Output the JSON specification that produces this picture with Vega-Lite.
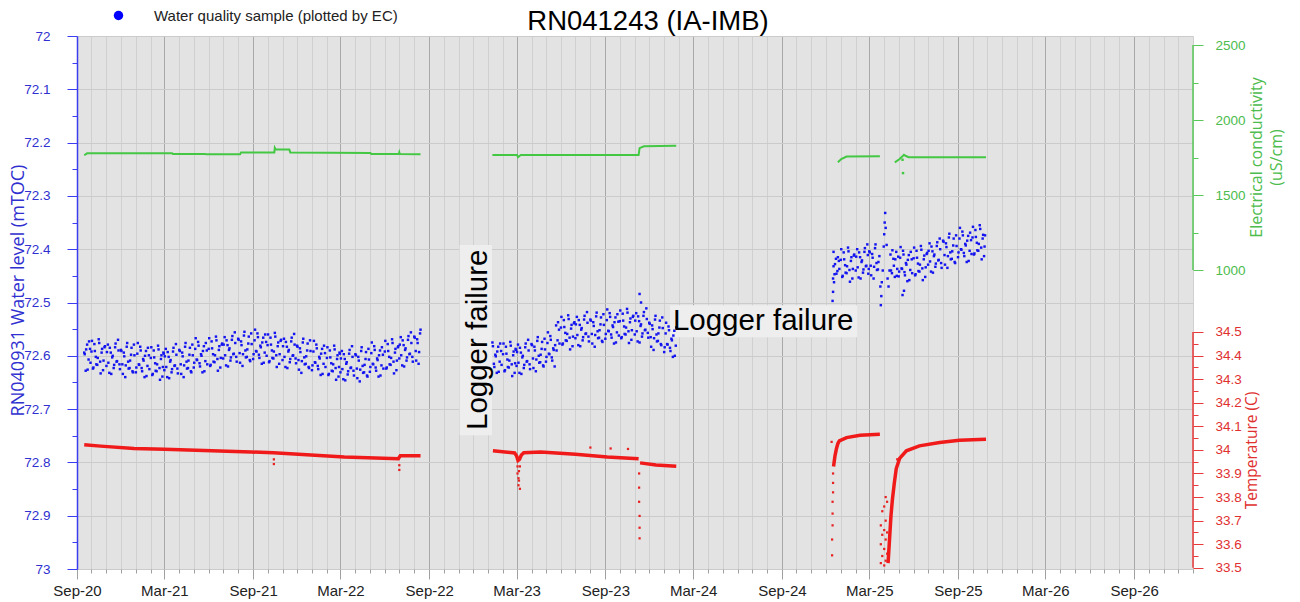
{
"$schema": "https://vega.github.io/schema/vega-lite/v6.json",
"autosize": "none",
"width": 1116,
"height": 533,
"padding": {"left": 77, "top": 36, "right": 107, "bottom": 33},
"background": "#ffffff",
"config": {"view": {"fill": "#e3e3e3", "stroke": null}, "font": "Liberation Sans", "axis": {"labelFont": "Liberation Sans", "titleFont": "Open Sans"}},
"title": {"text": "RN041243 (IA-IMB)", "fontSize": 27.5, "fontWeight": "normal", "font": "Liberation Sans", "color": "#000000", "anchor": "middle", "dx": 13, "dy": 33, "offset": 6},
"datasets": {
"wl": [
{"t":"2020-09-16","w":72.594},{"t":"2020-09-19","w":72.628},{"t":"2020-09-22","w":72.579},{"t":"2020-09-25","w":72.607},{"t":"2020-09-28","w":72.587},
{"t":"2020-10-01","w":72.592},{"t":"2020-10-04","w":72.624},{"t":"2020-10-07","w":72.578},{"t":"2020-10-10","w":72.602},{"t":"2020-10-13","w":72.617},{"t":"2020-10-16","w":72.569},{"t":"2020-10-19","w":72.611},{"t":"2020-10-22","w":72.594},{"t":"2020-10-25","w":72.627},{"t":"2020-10-28","w":72.584},
{"t":"2020-11-01","w":72.619},{"t":"2020-11-04","w":72.579},{"t":"2020-11-07","w":72.632},{"t":"2020-11-10","w":72.594},{"t":"2020-11-13","w":72.603},{"t":"2020-11-16","w":72.623},{"t":"2020-11-19","w":72.584},{"t":"2020-11-22","w":72.611},{"t":"2020-11-25","w":72.570},{"t":"2020-11-28","w":72.616},
{"t":"2020-12-01","w":72.589},{"t":"2020-12-04","w":72.616},{"t":"2020-12-07","w":72.594},{"t":"2020-12-10","w":72.640},{"t":"2020-12-13","w":72.583},{"t":"2020-12-16","w":72.611},{"t":"2020-12-19","w":72.623},{"t":"2020-12-22","w":72.598},{"t":"2020-12-25","w":72.629},{"t":"2020-12-28","w":72.579},
{"t":"2021-01-01","w":72.631},{"t":"2021-01-04","w":72.596},{"t":"2021-01-07","w":72.616},{"t":"2021-01-10","w":72.583},{"t":"2021-01-13","w":72.623},{"t":"2021-01-16","w":72.606},{"t":"2021-01-19","w":72.640},{"t":"2021-01-22","w":72.591},{"t":"2021-01-25","w":72.619},{"t":"2021-01-28","w":72.599},
{"t":"2021-02-01","w":72.604},{"t":"2021-02-04","w":72.636},{"t":"2021-02-07","w":72.590},{"t":"2021-02-10","w":72.614},{"t":"2021-02-13","w":72.629},{"t":"2021-02-16","w":72.581},{"t":"2021-02-19","w":72.623},{"t":"2021-02-22","w":72.606},{"t":"2021-02-25","w":72.639},{"t":"2021-02-28","w":72.596},
{"t":"2021-03-01","w":72.627},{"t":"2021-03-04","w":72.587},{"t":"2021-03-07","w":72.640},{"t":"2021-03-10","w":72.602},{"t":"2021-03-13","w":72.611},{"t":"2021-03-16","w":72.631},{"t":"2021-03-19","w":72.592},{"t":"2021-03-22","w":72.619},{"t":"2021-03-25","w":72.578},{"t":"2021-03-28","w":72.624},
{"t":"2021-04-01","w":72.589},{"t":"2021-04-04","w":72.616},{"t":"2021-04-07","w":72.594},{"t":"2021-04-10","w":72.640},{"t":"2021-04-13","w":72.583},{"t":"2021-04-16","w":72.611},{"t":"2021-04-19","w":72.623},{"t":"2021-04-22","w":72.598},{"t":"2021-04-25","w":72.629},{"t":"2021-04-28","w":72.579},
{"t":"2021-05-01","w":72.622},{"t":"2021-05-04","w":72.587},{"t":"2021-05-07","w":72.607},{"t":"2021-05-10","w":72.574},{"t":"2021-05-13","w":72.614},{"t":"2021-05-16","w":72.597},{"t":"2021-05-19","w":72.631},{"t":"2021-05-22","w":72.582},{"t":"2021-05-25","w":72.610},{"t":"2021-05-28","w":72.590},
{"t":"2021-06-01","w":72.587},{"t":"2021-06-04","w":72.619},{"t":"2021-06-07","w":72.573},{"t":"2021-06-10","w":72.597},{"t":"2021-06-13","w":72.612},{"t":"2021-06-16","w":72.564},{"t":"2021-06-19","w":72.606},{"t":"2021-06-22","w":72.589},{"t":"2021-06-25","w":72.622},{"t":"2021-06-28","w":72.579},
{"t":"2021-07-01","w":72.605},{"t":"2021-07-04","w":72.565},{"t":"2021-07-07","w":72.618},{"t":"2021-07-10","w":72.580},{"t":"2021-07-13","w":72.589},{"t":"2021-07-16","w":72.609},{"t":"2021-07-19","w":72.570},{"t":"2021-07-22","w":72.597},{"t":"2021-07-25","w":72.556},{"t":"2021-07-28","w":72.602},
{"t":"2021-08-01","w":72.568},{"t":"2021-08-04","w":72.595},{"t":"2021-08-07","w":72.573},{"t":"2021-08-10","w":72.619},{"t":"2021-08-13","w":72.562},{"t":"2021-08-16","w":72.590},{"t":"2021-08-19","w":72.602},{"t":"2021-08-22","w":72.577},{"t":"2021-08-25","w":72.608},{"t":"2021-08-28","w":72.558},
{"t":"2021-09-01","w":72.606},{"t":"2021-09-04","w":72.571},{"t":"2021-09-07","w":72.591},{"t":"2021-09-10","w":72.558},{"t":"2021-09-13","w":72.598},{"t":"2021-09-16","w":72.581},{"t":"2021-09-19","w":72.615},{"t":"2021-09-22","w":72.566},{"t":"2021-09-25","w":72.594},{"t":"2021-09-28","w":72.574},
{"t":"2021-10-01","w":72.580},{"t":"2021-10-04","w":72.612},{"t":"2021-10-07","w":72.566},{"t":"2021-10-10","w":72.590},{"t":"2021-10-13","w":72.605},{"t":"2021-10-16","w":72.557},{"t":"2021-10-19","w":72.599},{"t":"2021-10-22","w":72.582},{"t":"2021-10-25","w":72.615},{"t":"2021-10-28","w":72.572},
{"t":"2021-11-01","w":72.608},{"t":"2021-11-04","w":72.568},{"t":"2021-11-07","w":72.621},{"t":"2021-11-10","w":72.583},{"t":"2021-11-13","w":72.592},{"t":"2021-11-16","w":72.612},{"t":"2021-11-19","w":72.573},{"t":"2021-11-22","w":72.600},{"t":"2021-11-25","w":72.559},{"t":"2021-11-28","w":72.605},
{"t":"2021-12-01","w":72.581},{"t":"2021-12-04","w":72.608},{"t":"2021-12-07","w":72.586},{"t":"2021-12-10","w":72.632},{"t":"2021-12-13","w":72.575},{"t":"2021-12-16","w":72.603},{"t":"2021-12-19","w":72.615},{"t":"2021-12-22","w":72.590},{"t":"2021-12-25","w":72.621},{"t":"2021-12-28","w":72.571},
{"t":"2022-01-01","w":72.627},{"t":"2022-01-04","w":72.592},{"t":"2022-01-07","w":72.612},{"t":"2022-01-10","w":72.579},{"t":"2022-01-13","w":72.619},{"t":"2022-01-16","w":72.602},{"t":"2022-01-19","w":72.636},{"t":"2022-01-22","w":72.587},{"t":"2022-01-25","w":72.615},{"t":"2022-01-28","w":72.595},
{"t":"2022-02-01","w":72.604},{"t":"2022-02-04","w":72.636},{"t":"2022-02-07","w":72.590},{"t":"2022-02-10","w":72.614},{"t":"2022-02-13","w":72.629},{"t":"2022-02-16","w":72.581},{"t":"2022-02-19","w":72.623},{"t":"2022-02-22","w":72.606},{"t":"2022-02-25","w":72.639},{"t":"2022-02-28","w":72.596},
{"t":"2022-03-01","w":72.631},{"t":"2022-03-04","w":72.591},{"t":"2022-03-07","w":72.644},{"t":"2022-03-10","w":72.606},{"t":"2022-03-13","w":72.615},{"t":"2022-03-16","w":72.635},{"t":"2022-03-19","w":72.596},{"t":"2022-03-22","w":72.623},{"t":"2022-03-25","w":72.582},{"t":"2022-03-28","w":72.628},
{"t":"2022-04-01","w":72.597},{"t":"2022-04-04","w":72.624},{"t":"2022-04-07","w":72.602},{"t":"2022-04-10","w":72.648},{"t":"2022-04-13","w":72.591},{"t":"2022-04-16","w":72.619},{"t":"2022-04-19","w":72.631},{"t":"2022-04-22","w":72.606},{"t":"2022-04-25","w":72.637},{"t":"2022-04-28","w":72.587},
{"t":"2022-05-01","w":72.630},{"t":"2022-05-04","w":72.595},{"t":"2022-05-07","w":72.615},{"t":"2022-05-10","w":72.582},{"t":"2022-05-13","w":72.622},{"t":"2022-05-16","w":72.605},{"t":"2022-05-19","w":72.639},{"t":"2022-05-22","w":72.590},{"t":"2022-05-25","w":72.618},{"t":"2022-05-28","w":72.598},
{"t":"2022-06-01","w":72.592},{"t":"2022-06-04","w":72.624},{"t":"2022-06-07","w":72.578},{"t":"2022-06-10","w":72.602},{"t":"2022-06-13","w":72.617},{"t":"2022-06-16","w":72.569},{"t":"2022-06-19","w":72.611},{"t":"2022-06-22","w":72.594},{"t":"2022-06-25","w":72.627},{"t":"2022-06-28","w":72.584},
{"t":"2022-07-01","w":72.605},{"t":"2022-07-04","w":72.565},{"t":"2022-07-07","w":72.618},{"t":"2022-07-10","w":72.580},{"t":"2022-07-13","w":72.589},{"t":"2022-07-16","w":72.609},{"t":"2022-07-19","w":72.570},{"t":"2022-07-22","w":72.597},{"t":"2022-07-25","w":72.556},{"t":"2022-07-28","w":72.602},
{"t":"2022-08-01","w":72.564},{"t":"2022-08-04","w":72.591},{"t":"2022-08-07","w":72.569},{"t":"2022-08-10","w":72.615},{"t":"2022-08-13","w":72.558},
{"t":"2020-09-17","w":72.597},{"t":"2020-09-20","w":72.588},{"t":"2020-09-23","w":72.626},{"t":"2020-09-26","w":72.573},{"t":"2020-09-29","w":72.613},
{"t":"2020-10-02","w":72.572},{"t":"2020-10-05","w":72.622},{"t":"2020-10-08","w":72.591},{"t":"2020-10-11","w":72.616},{"t":"2020-10-14","w":72.604},{"t":"2020-10-17","w":72.576},{"t":"2020-10-20","w":72.633},{"t":"2020-10-23","w":72.587},{"t":"2020-10-26","w":72.609},{"t":"2020-10-29","w":72.582},
{"t":"2020-11-02","w":72.593},{"t":"2020-11-05","w":72.613},{"t":"2020-11-08","w":72.585},{"t":"2020-11-11","w":72.634},{"t":"2020-11-14","w":72.600},{"t":"2020-11-17","w":72.617},{"t":"2020-11-20","w":72.577},{"t":"2020-11-23","w":72.610},{"t":"2020-11-26","w":72.590},{"t":"2020-11-29","w":72.625},
{"t":"2020-12-02","w":72.591},{"t":"2020-12-05","w":72.634},{"t":"2020-12-08","w":72.601},{"t":"2020-12-11","w":72.618},{"t":"2020-12-14","w":72.576},{"t":"2020-12-17","w":72.624},{"t":"2020-12-20","w":72.609},{"t":"2020-12-23","w":72.585},{"t":"2020-12-26","w":72.631},{"t":"2020-12-29","w":72.599},
{"t":"2021-01-02","w":72.622},{"t":"2021-01-05","w":72.576},{"t":"2021-01-08","w":72.617},{"t":"2021-01-11","w":72.590},{"t":"2021-01-14","w":72.629},{"t":"2021-01-17","w":72.609},{"t":"2021-01-20","w":72.600},{"t":"2021-01-23","w":72.638},{"t":"2021-01-26","w":72.585},{"t":"2021-01-29","w":72.625},
{"t":"2021-02-02","w":72.584},{"t":"2021-02-05","w":72.634},{"t":"2021-02-08","w":72.603},{"t":"2021-02-11","w":72.628},{"t":"2021-02-14","w":72.616},{"t":"2021-02-17","w":72.588},{"t":"2021-02-20","w":72.645},{"t":"2021-02-23","w":72.599},{"t":"2021-02-26","w":72.621},{"t":"2021-02-27","w":72.594},
{"t":"2021-03-02","w":72.601},{"t":"2021-03-05","w":72.621},{"t":"2021-03-08","w":72.593},{"t":"2021-03-11","w":72.642},{"t":"2021-03-14","w":72.608},{"t":"2021-03-17","w":72.625},{"t":"2021-03-20","w":72.585},{"t":"2021-03-23","w":72.618},{"t":"2021-03-26","w":72.598},{"t":"2021-03-29","w":72.633},
{"t":"2021-04-02","w":72.591},{"t":"2021-04-05","w":72.634},{"t":"2021-04-08","w":72.601},{"t":"2021-04-11","w":72.618},{"t":"2021-04-14","w":72.576},{"t":"2021-04-17","w":72.624},{"t":"2021-04-20","w":72.609},{"t":"2021-04-23","w":72.585},{"t":"2021-04-26","w":72.631},{"t":"2021-04-29","w":72.599},
{"t":"2021-05-02","w":72.613},{"t":"2021-05-05","w":72.567},{"t":"2021-05-08","w":72.608},{"t":"2021-05-11","w":72.581},{"t":"2021-05-14","w":72.620},{"t":"2021-05-17","w":72.600},{"t":"2021-05-20","w":72.591},{"t":"2021-05-23","w":72.629},{"t":"2021-05-26","w":72.576},{"t":"2021-05-29","w":72.616},
{"t":"2021-06-02","w":72.567},{"t":"2021-06-05","w":72.617},{"t":"2021-06-08","w":72.586},{"t":"2021-06-11","w":72.611},{"t":"2021-06-14","w":72.599},{"t":"2021-06-17","w":72.571},{"t":"2021-06-20","w":72.628},{"t":"2021-06-23","w":72.582},{"t":"2021-06-26","w":72.604},{"t":"2021-06-29","w":72.577},
{"t":"2021-07-02","w":72.579},{"t":"2021-07-05","w":72.599},{"t":"2021-07-08","w":72.571},{"t":"2021-07-11","w":72.620},{"t":"2021-07-14","w":72.586},{"t":"2021-07-17","w":72.603},{"t":"2021-07-20","w":72.563},{"t":"2021-07-23","w":72.596},{"t":"2021-07-26","w":72.576},{"t":"2021-07-29","w":72.611},
{"t":"2021-08-02","w":72.570},{"t":"2021-08-05","w":72.613},{"t":"2021-08-08","w":72.580},{"t":"2021-08-11","w":72.597},{"t":"2021-08-14","w":72.555},{"t":"2021-08-17","w":72.603},{"t":"2021-08-20","w":72.588},{"t":"2021-08-23","w":72.564},{"t":"2021-08-26","w":72.610},{"t":"2021-08-29","w":72.578},
{"t":"2021-09-02","w":72.597},{"t":"2021-09-05","w":72.551},{"t":"2021-09-08","w":72.592},{"t":"2021-09-11","w":72.565},{"t":"2021-09-14","w":72.604},{"t":"2021-09-17","w":72.584},{"t":"2021-09-20","w":72.575},{"t":"2021-09-23","w":72.613},{"t":"2021-09-26","w":72.560},{"t":"2021-09-29","w":72.600},
{"t":"2021-10-02","w":72.560},{"t":"2021-10-05","w":72.610},{"t":"2021-10-08","w":72.579},{"t":"2021-10-11","w":72.604},{"t":"2021-10-14","w":72.592},{"t":"2021-10-17","w":72.564},{"t":"2021-10-20","w":72.621},{"t":"2021-10-23","w":72.575},{"t":"2021-10-26","w":72.597},{"t":"2021-10-29","w":72.570},
{"t":"2021-11-02","w":72.582},{"t":"2021-11-05","w":72.602},{"t":"2021-11-08","w":72.574},{"t":"2021-11-11","w":72.623},{"t":"2021-11-14","w":72.589},{"t":"2021-11-17","w":72.606},{"t":"2021-11-20","w":72.566},{"t":"2021-11-23","w":72.599},{"t":"2021-11-26","w":72.579},{"t":"2021-11-29","w":72.614},
{"t":"2021-12-02","w":72.583},{"t":"2021-12-05","w":72.626},{"t":"2021-12-08","w":72.593},{"t":"2021-12-11","w":72.610},{"t":"2021-12-14","w":72.568},{"t":"2021-12-17","w":72.616},{"t":"2021-12-20","w":72.601},{"t":"2021-12-23","w":72.577},{"t":"2021-12-26","w":72.623},{"t":"2021-12-29","w":72.591},
{"t":"2022-01-02","w":72.618},{"t":"2022-01-05","w":72.572},{"t":"2022-01-08","w":72.613},{"t":"2022-01-11","w":72.586},{"t":"2022-01-14","w":72.625},{"t":"2022-01-17","w":72.605},{"t":"2022-01-20","w":72.596},{"t":"2022-01-23","w":72.634},{"t":"2022-01-26","w":72.581},{"t":"2022-01-29","w":72.621},
{"t":"2022-02-02","w":72.584},{"t":"2022-02-05","w":72.634},{"t":"2022-02-08","w":72.603},{"t":"2022-02-11","w":72.628},{"t":"2022-02-14","w":72.616},{"t":"2022-02-17","w":72.588},{"t":"2022-02-20","w":72.645},{"t":"2022-02-23","w":72.599},{"t":"2022-02-26","w":72.621},{"t":"2022-02-27","w":72.594},
{"t":"2022-03-02","w":72.605},{"t":"2022-03-05","w":72.625},{"t":"2022-03-08","w":72.597},{"t":"2022-03-11","w":72.646},{"t":"2022-03-14","w":72.612},{"t":"2022-03-17","w":72.629},{"t":"2022-03-20","w":72.589},{"t":"2022-03-23","w":72.622},{"t":"2022-03-26","w":72.602},{"t":"2022-03-29","w":72.637},
{"t":"2022-04-02","w":72.599},{"t":"2022-04-05","w":72.642},{"t":"2022-04-08","w":72.609},{"t":"2022-04-11","w":72.626},{"t":"2022-04-14","w":72.584},{"t":"2022-04-17","w":72.632},{"t":"2022-04-20","w":72.617},{"t":"2022-04-23","w":72.593},{"t":"2022-04-26","w":72.639},{"t":"2022-04-29","w":72.607},
{"t":"2022-05-02","w":72.621},{"t":"2022-05-05","w":72.575},{"t":"2022-05-08","w":72.616},{"t":"2022-05-11","w":72.589},{"t":"2022-05-14","w":72.628},{"t":"2022-05-17","w":72.608},{"t":"2022-05-20","w":72.599},{"t":"2022-05-23","w":72.637},{"t":"2022-05-26","w":72.584},{"t":"2022-05-29","w":72.624},
{"t":"2022-06-02","w":72.572},{"t":"2022-06-05","w":72.622},{"t":"2022-06-08","w":72.591},{"t":"2022-06-11","w":72.616},{"t":"2022-06-14","w":72.604},{"t":"2022-06-17","w":72.576},{"t":"2022-06-20","w":72.633},{"t":"2022-06-23","w":72.587},{"t":"2022-06-26","w":72.609},{"t":"2022-06-29","w":72.582},
{"t":"2022-07-02","w":72.579},{"t":"2022-07-05","w":72.599},{"t":"2022-07-08","w":72.571},{"t":"2022-07-11","w":72.620},{"t":"2022-07-14","w":72.586},{"t":"2022-07-17","w":72.603},{"t":"2022-07-20","w":72.563},{"t":"2022-07-23","w":72.596},{"t":"2022-07-26","w":72.576},{"t":"2022-07-29","w":72.611},
{"t":"2022-08-02","w":72.566},{"t":"2022-08-05","w":72.609},{"t":"2022-08-08","w":72.576},{"t":"2022-08-11","w":72.593},{"t":"2022-08-14","w":72.551},
{"t":"2023-01-10","w":72.575},{"t":"2023-01-13","w":72.615},{"t":"2023-01-16","w":72.598},{"t":"2023-01-19","w":72.632},{"t":"2023-01-22","w":72.583},{"t":"2023-01-25","w":72.611},{"t":"2023-01-28","w":72.591},
{"t":"2023-02-01","w":72.597},{"t":"2023-02-04","w":72.629},{"t":"2023-02-07","w":72.583},{"t":"2023-02-10","w":72.607},{"t":"2023-02-13","w":72.622},{"t":"2023-02-16","w":72.574},{"t":"2023-02-19","w":72.616},{"t":"2023-02-22","w":72.599},{"t":"2023-02-25","w":72.632},{"t":"2023-02-28","w":72.589},
{"t":"2023-03-01","w":72.619},{"t":"2023-03-04","w":72.579},{"t":"2023-03-07","w":72.632},{"t":"2023-03-10","w":72.594},{"t":"2023-03-13","w":72.603},{"t":"2023-03-16","w":72.623},{"t":"2023-03-19","w":72.584},{"t":"2023-03-22","w":72.611},{"t":"2023-03-25","w":72.570},{"t":"2023-03-28","w":72.616},
{"t":"2023-04-01","w":72.578},{"t":"2023-04-04","w":72.605},{"t":"2023-04-07","w":72.583},{"t":"2023-04-10","w":72.629},{"t":"2023-04-13","w":72.572},{"t":"2023-04-16","w":72.600},{"t":"2023-04-19","w":72.612},{"t":"2023-04-22","w":72.587},{"t":"2023-04-25","w":72.618},{"t":"2023-04-28","w":72.568},
{"t":"2023-05-01","w":72.611},{"t":"2023-05-04","w":72.576},{"t":"2023-05-07","w":72.596},{"t":"2023-05-10","w":72.563},{"t":"2023-05-13","w":72.603},{"t":"2023-05-16","w":72.586},{"t":"2023-05-19","w":72.620},{"t":"2023-05-22","w":72.543},{"t":"2023-05-25","w":72.571},{"t":"2023-05-28","w":72.551},
{"t":"2023-06-01","w":72.547},{"t":"2023-06-04","w":72.579},{"t":"2023-06-07","w":72.533},{"t":"2023-06-10","w":72.557},{"t":"2023-06-13","w":72.572},{"t":"2023-06-16","w":72.524},{"t":"2023-06-19","w":72.566},{"t":"2023-06-22","w":72.549},{"t":"2023-06-25","w":72.582},{"t":"2023-06-28","w":72.539},
{"t":"2023-07-01","w":72.567},{"t":"2023-07-04","w":72.527},{"t":"2023-07-07","w":72.580},{"t":"2023-07-10","w":72.542},{"t":"2023-07-13","w":72.551},{"t":"2023-07-16","w":72.571},{"t":"2023-07-19","w":72.532},{"t":"2023-07-22","w":72.559},{"t":"2023-07-25","w":72.518},{"t":"2023-07-28","w":72.564},
{"t":"2023-08-01","w":72.532},{"t":"2023-08-04","w":72.559},{"t":"2023-08-07","w":72.537},{"t":"2023-08-10","w":72.583},{"t":"2023-08-13","w":72.526},{"t":"2023-08-16","w":72.554},{"t":"2023-08-19","w":72.566},{"t":"2023-08-22","w":72.541},{"t":"2023-08-25","w":72.572},{"t":"2023-08-28","w":72.522},
{"t":"2023-09-01","w":72.568},{"t":"2023-09-04","w":72.533},{"t":"2023-09-07","w":72.553},{"t":"2023-09-10","w":72.520},{"t":"2023-09-13","w":72.560},{"t":"2023-09-16","w":72.543},{"t":"2023-09-19","w":72.577},{"t":"2023-09-22","w":72.528},{"t":"2023-09-25","w":72.556},{"t":"2023-09-28","w":72.536},
{"t":"2023-10-01","w":72.535},{"t":"2023-10-04","w":72.567},{"t":"2023-10-07","w":72.521},{"t":"2023-10-10","w":72.545},{"t":"2023-10-13","w":72.560},{"t":"2023-10-16","w":72.512},{"t":"2023-10-19","w":72.554},{"t":"2023-10-22","w":72.537},{"t":"2023-10-25","w":72.570},{"t":"2023-10-28","w":72.527},
{"t":"2023-11-01","w":72.560},{"t":"2023-11-04","w":72.520},{"t":"2023-11-07","w":72.573},{"t":"2023-11-10","w":72.535},{"t":"2023-11-11","w":72.484},{"t":"2023-11-13","w":72.544},{"t":"2023-11-14","w":72.500},{"t":"2023-11-16","w":72.564},{"t":"2023-11-19","w":72.525},{"t":"2023-11-22","w":72.552},{"t":"2023-11-25","w":72.511},{"t":"2023-11-28","w":72.557},
{"t":"2023-12-01","w":72.538},{"t":"2023-12-04","w":72.565},{"t":"2023-12-07","w":72.543},{"t":"2023-12-10","w":72.589},{"t":"2023-12-13","w":72.532},{"t":"2023-12-16","w":72.560},{"t":"2023-12-19","w":72.572},{"t":"2023-12-22","w":72.547},{"t":"2023-12-25","w":72.578},{"t":"2023-12-28","w":72.528},
{"t":"2024-01-01","w":72.593},{"t":"2024-01-04","w":72.558},{"t":"2024-01-07","w":72.578},{"t":"2024-01-10","w":72.545},{"t":"2024-01-13","w":72.585},{"t":"2024-01-16","w":72.568},{"t":"2024-01-19","w":72.602},{"t":"2024-01-22","w":72.553},{"t":"2024-01-25","w":72.581},
{"t":"2023-01-11","w":72.582},{"t":"2023-01-14","w":72.621},{"t":"2023-01-17","w":72.601},{"t":"2023-01-20","w":72.592},{"t":"2023-01-23","w":72.630},{"t":"2023-01-26","w":72.577},{"t":"2023-01-29","w":72.617},
{"t":"2023-02-02","w":72.577},{"t":"2023-02-05","w":72.627},{"t":"2023-02-08","w":72.596},{"t":"2023-02-11","w":72.621},{"t":"2023-02-14","w":72.609},{"t":"2023-02-17","w":72.581},{"t":"2023-02-20","w":72.638},{"t":"2023-02-23","w":72.592},{"t":"2023-02-26","w":72.614},{"t":"2023-02-27","w":72.587},
{"t":"2023-03-02","w":72.593},{"t":"2023-03-05","w":72.613},{"t":"2023-03-08","w":72.585},{"t":"2023-03-11","w":72.634},{"t":"2023-03-14","w":72.600},{"t":"2023-03-17","w":72.617},{"t":"2023-03-20","w":72.577},{"t":"2023-03-23","w":72.610},{"t":"2023-03-26","w":72.590},{"t":"2023-03-29","w":72.625},
{"t":"2023-04-02","w":72.580},{"t":"2023-04-05","w":72.623},{"t":"2023-04-08","w":72.590},{"t":"2023-04-11","w":72.607},{"t":"2023-04-14","w":72.565},{"t":"2023-04-17","w":72.613},{"t":"2023-04-20","w":72.598},{"t":"2023-04-23","w":72.574},{"t":"2023-04-26","w":72.620},{"t":"2023-04-29","w":72.588},
{"t":"2023-05-02","w":72.602},{"t":"2023-05-05","w":72.556},{"t":"2023-05-08","w":72.597},{"t":"2023-05-11","w":72.570},{"t":"2023-05-14","w":72.609},{"t":"2023-05-17","w":72.589},{"t":"2023-05-20","w":72.580},{"t":"2023-05-23","w":72.590},{"t":"2023-05-26","w":72.537},{"t":"2023-05-29","w":72.577},
{"t":"2023-06-02","w":72.527},{"t":"2023-06-05","w":72.577},{"t":"2023-06-08","w":72.546},{"t":"2023-06-11","w":72.571},{"t":"2023-06-14","w":72.559},{"t":"2023-06-17","w":72.531},{"t":"2023-06-20","w":72.588},{"t":"2023-06-23","w":72.542},{"t":"2023-06-26","w":72.564},{"t":"2023-06-29","w":72.537},
{"t":"2023-07-02","w":72.541},{"t":"2023-07-05","w":72.561},{"t":"2023-07-08","w":72.533},{"t":"2023-07-11","w":72.582},{"t":"2023-07-14","w":72.548},{"t":"2023-07-17","w":72.565},{"t":"2023-07-20","w":72.525},{"t":"2023-07-23","w":72.558},{"t":"2023-07-26","w":72.538},{"t":"2023-07-29","w":72.573},
{"t":"2023-08-02","w":72.534},{"t":"2023-08-05","w":72.577},{"t":"2023-08-08","w":72.544},{"t":"2023-08-11","w":72.561},{"t":"2023-08-14","w":72.519},{"t":"2023-08-17","w":72.567},{"t":"2023-08-20","w":72.552},{"t":"2023-08-23","w":72.528},{"t":"2023-08-26","w":72.574},{"t":"2023-08-29","w":72.542},
{"t":"2023-09-02","w":72.559},{"t":"2023-09-05","w":72.513},{"t":"2023-09-08","w":72.554},{"t":"2023-09-11","w":72.527},{"t":"2023-09-14","w":72.566},{"t":"2023-09-17","w":72.546},{"t":"2023-09-20","w":72.537},{"t":"2023-09-23","w":72.575},{"t":"2023-09-26","w":72.522},{"t":"2023-09-29","w":72.562},
{"t":"2023-10-02","w":72.515},{"t":"2023-10-05","w":72.565},{"t":"2023-10-08","w":72.534},{"t":"2023-10-11","w":72.559},{"t":"2023-10-14","w":72.547},{"t":"2023-10-17","w":72.519},{"t":"2023-10-20","w":72.576},{"t":"2023-10-23","w":72.530},{"t":"2023-10-26","w":72.552},{"t":"2023-10-29","w":72.525},
{"t":"2023-11-02","w":72.534},{"t":"2023-11-05","w":72.554},{"t":"2023-11-08","w":72.526},{"t":"2023-11-11","w":72.575},{"t":"2023-11-14","w":72.541},{"t":"2023-11-17","w":72.558},{"t":"2023-11-20","w":72.518},{"t":"2023-11-23","w":72.551},{"t":"2023-11-26","w":72.531},{"t":"2023-11-29","w":72.566},
{"t":"2023-12-02","w":72.540},{"t":"2023-12-05","w":72.583},{"t":"2023-12-08","w":72.550},{"t":"2023-12-11","w":72.567},{"t":"2023-12-14","w":72.525},{"t":"2023-12-17","w":72.573},{"t":"2023-12-20","w":72.558},{"t":"2023-12-23","w":72.534},{"t":"2023-12-26","w":72.580},{"t":"2023-12-29","w":72.548},
{"t":"2024-01-02","w":72.584},{"t":"2024-01-05","w":72.538},{"t":"2024-01-08","w":72.579},{"t":"2024-01-11","w":72.552},{"t":"2024-01-14","w":72.591},{"t":"2024-01-17","w":72.571},{"t":"2024-01-20","w":72.562},{"t":"2024-01-23","w":72.600},{"t":"2024-01-26","w":72.547},
{"t":"2024-12-15","w":72.497},{"t":"2024-12-16","w":72.480},{"t":"2024-12-16","w":72.455},{"t":"2024-12-17","w":72.432},{"t":"2024-12-17","w":72.405},{"t":"2024-12-19","w":72.447},{"t":"2024-12-22","w":72.418},{"t":"2024-12-25","w":72.441},{"t":"2024-12-28","w":72.422},
{"t":"2024-12-18","w":72.462},{"t":"2024-12-20","w":72.428},{"t":"2024-12-23","w":72.446},{"t":"2024-12-26","w":72.415},{"t":"2024-12-29","w":72.437},
{"t":"2025-01-01","w":72.420},{"t":"2025-01-04","w":72.452},{"t":"2025-01-07","w":72.406},{"t":"2025-01-10","w":72.430},{"t":"2025-01-13","w":72.445},{"t":"2025-01-16","w":72.397},{"t":"2025-01-19","w":72.439},{"t":"2025-01-22","w":72.422},{"t":"2025-01-25","w":72.455},{"t":"2025-01-28","w":72.412},
{"t":"2025-01-02","w":72.400},{"t":"2025-01-05","w":72.450},{"t":"2025-01-08","w":72.419},{"t":"2025-01-11","w":72.444},{"t":"2025-01-14","w":72.432},{"t":"2025-01-17","w":72.404},{"t":"2025-01-20","w":72.461},{"t":"2025-01-23","w":72.415},{"t":"2025-01-26","w":72.437},{"t":"2025-01-29","w":72.410},
{"t":"2025-02-01","w":72.440},{"t":"2025-02-04","w":72.400},{"t":"2025-02-07","w":72.453},{"t":"2025-02-10","w":72.415},{"t":"2025-02-13","w":72.424},{"t":"2025-02-16","w":72.444},{"t":"2025-02-19","w":72.405},{"t":"2025-02-22","w":72.432},{"t":"2025-02-25","w":72.391},{"t":"2025-02-28","w":72.437},
{"t":"2025-02-02","w":72.414},{"t":"2025-02-05","w":72.434},{"t":"2025-02-08","w":72.406},{"t":"2025-02-11","w":72.455},{"t":"2025-02-14","w":72.421},{"t":"2025-02-17","w":72.438},{"t":"2025-02-20","w":72.398},{"t":"2025-02-23","w":72.431},{"t":"2025-02-26","w":72.411},{"t":"2025-02-27","w":72.446},
{"t":"2025-03-01","w":72.404},{"t":"2025-03-04","w":72.431},{"t":"2025-03-07","w":72.409},{"t":"2025-03-10","w":72.455},{"t":"2025-03-13","w":72.398},{"t":"2025-03-16","w":72.426},{"t":"2025-03-19","w":72.438},{"t":"2025-03-22","w":72.413},{"t":"2025-03-24","w":72.470},{"t":"2025-03-25","w":72.505},{"t":"2025-03-26","w":72.488},{"t":"2025-03-27","w":72.462},{"t":"2025-03-29","w":72.440},{"t":"2025-03-31","w":72.395},
{"t":"2025-03-02","w":72.406},{"t":"2025-03-05","w":72.449},{"t":"2025-03-08","w":72.416},{"t":"2025-03-11","w":72.433},{"t":"2025-03-14","w":72.391},{"t":"2025-03-17","w":72.439},{"t":"2025-03-20","w":72.424},
{"t":"2025-04-01","w":72.372},{"t":"2025-04-02","w":72.350},{"t":"2025-04-03","w":72.332},{"t":"2025-04-04","w":72.360},{"t":"2025-04-06","w":72.392},{"t":"2025-04-08","w":72.455},{"t":"2025-04-10","w":72.470},{"t":"2025-04-12","w":72.440},{"t":"2025-04-14","w":72.410},{"t":"2025-04-17","w":72.445},{"t":"2025-04-20","w":72.418},{"t":"2025-04-23","w":72.452},{"t":"2025-04-26","w":72.405},{"t":"2025-04-28","w":72.437},
{"t":"2025-04-15","w":72.440},{"t":"2025-04-18","w":72.402},{"t":"2025-04-21","w":72.431},{"t":"2025-04-24","w":72.419},{"t":"2025-04-27","w":72.450},{"t":"2025-04-30","w":72.414},
{"t":"2025-05-01","w":72.451},{"t":"2025-05-04","w":72.416},{"t":"2025-05-07","w":72.436},{"t":"2025-05-09","w":72.486},{"t":"2025-05-10","w":72.403},{"t":"2025-05-12","w":72.478},{"t":"2025-05-13","w":72.443},{"t":"2025-05-16","w":72.426},{"t":"2025-05-19","w":72.460},{"t":"2025-05-22","w":72.411},{"t":"2025-05-25","w":72.439},{"t":"2025-05-28","w":72.419},
{"t":"2025-05-02","w":72.442},{"t":"2025-05-05","w":72.396},{"t":"2025-05-08","w":72.437},{"t":"2025-05-11","w":72.410},{"t":"2025-05-14","w":72.449},{"t":"2025-05-17","w":72.429},{"t":"2025-05-20","w":72.420},{"t":"2025-05-23","w":72.458},{"t":"2025-05-26","w":72.405},{"t":"2025-05-29","w":72.445},
{"t":"2025-06-01","w":72.417},{"t":"2025-06-04","w":72.449},{"t":"2025-06-07","w":72.403},{"t":"2025-06-10","w":72.427},{"t":"2025-06-13","w":72.442},{"t":"2025-06-16","w":72.394},{"t":"2025-06-19","w":72.436},{"t":"2025-06-22","w":72.419},{"t":"2025-06-25","w":72.452},{"t":"2025-06-28","w":72.409},
{"t":"2025-06-02","w":72.397},{"t":"2025-06-05","w":72.447},{"t":"2025-06-08","w":72.416},{"t":"2025-06-11","w":72.441},{"t":"2025-06-14","w":72.429},{"t":"2025-06-17","w":72.401},{"t":"2025-06-20","w":72.458},{"t":"2025-06-23","w":72.412},{"t":"2025-06-26","w":72.434},{"t":"2025-06-29","w":72.407},
{"t":"2025-07-01","w":72.429},{"t":"2025-07-04","w":72.389},{"t":"2025-07-07","w":72.442},{"t":"2025-07-10","w":72.404},{"t":"2025-07-13","w":72.413},{"t":"2025-07-16","w":72.433},{"t":"2025-07-19","w":72.394},{"t":"2025-07-22","w":72.421},{"t":"2025-07-25","w":72.380},{"t":"2025-07-28","w":72.426},
{"t":"2025-07-02","w":72.403},{"t":"2025-07-05","w":72.423},{"t":"2025-07-08","w":72.395},{"t":"2025-07-11","w":72.444},{"t":"2025-07-14","w":72.410},{"t":"2025-07-17","w":72.427},{"t":"2025-07-20","w":72.387},{"t":"2025-07-23","w":72.420},{"t":"2025-07-26","w":72.400},{"t":"2025-07-29","w":72.435},
{"t":"2025-08-01","w":72.384},{"t":"2025-08-04","w":72.411},{"t":"2025-08-07","w":72.389},{"t":"2025-08-10","w":72.435},{"t":"2025-08-13","w":72.378},{"t":"2025-08-16","w":72.406},{"t":"2025-08-19","w":72.418},{"t":"2025-08-22","w":72.393},{"t":"2025-08-25","w":72.424},{"t":"2025-08-28","w":72.374},
{"t":"2025-08-02","w":72.386},{"t":"2025-08-05","w":72.429},{"t":"2025-08-08","w":72.396},{"t":"2025-08-11","w":72.413},{"t":"2025-08-14","w":72.371},{"t":"2025-08-17","w":72.419},{"t":"2025-08-20","w":72.404},{"t":"2025-08-23","w":72.380},{"t":"2025-08-26","w":72.426},{"t":"2025-08-29","w":72.394},
{"t":"2025-09-01","w":72.415},{"t":"2025-09-04","w":72.380},{"t":"2025-09-07","w":72.400},{"t":"2025-09-10","w":72.367},{"t":"2025-09-13","w":72.407},{"t":"2025-09-16","w":72.390},{"t":"2025-09-19","w":72.424},{"t":"2025-09-22","w":72.375},{"t":"2025-09-25","w":72.403},{"t":"2025-09-28","w":72.383},
{"t":"2025-09-02","w":72.406},{"t":"2025-09-05","w":72.360},{"t":"2025-09-08","w":72.401},{"t":"2025-09-11","w":72.374},{"t":"2025-09-14","w":72.413},{"t":"2025-09-17","w":72.393},{"t":"2025-09-20","w":72.384},{"t":"2025-09-23","w":72.422},{"t":"2025-09-26","w":72.369},{"t":"2025-09-29","w":72.409},
{"t":"2025-10-01","w":72.378},{"t":"2025-10-04","w":72.410},{"t":"2025-10-07","w":72.364},{"t":"2025-10-10","w":72.388},{"t":"2025-10-13","w":72.403},{"t":"2025-10-16","w":72.355},{"t":"2025-10-19","w":72.397},{"t":"2025-10-22","w":72.380},{"t":"2025-10-25","w":72.413},{"t":"2025-10-27","w":72.374},
{"t":"2025-10-02","w":72.358},{"t":"2025-10-05","w":72.408},{"t":"2025-10-08","w":72.377},{"t":"2025-10-11","w":72.402},{"t":"2025-10-14","w":72.390},{"t":"2025-10-17","w":72.362},{"t":"2025-10-20","w":72.419},{"t":"2025-10-23","w":72.373},{"t":"2025-10-26","w":72.395}
],
"ec": [
{"t":"2020-09-16","e":1765,"s":"1"},{"t":"2020-09-22","e":1778,"s":"1"},{"t":"2021-03-17","e":1779,"s":"1"},{"t":"2021-03-19","e":1773,"s":"1"},{"t":"2021-05-25","e":1773,"s":"1"},{"t":"2021-05-27","e":1771,"s":"1"},{"t":"2021-08-05","e":1771,"s":"1"},{"t":"2021-08-07","e":1784,"s":"1"},{"t":"2021-10-15","e":1784,"s":"1"},{"t":"2021-10-16","e":1815,"s":"1"},{"t":"2021-10-18","e":1804,"s":"1"},{"t":"2021-11-15","e":1804,"s":"1"},{"t":"2021-11-17","e":1784,"s":"1"},{"t":"2022-05-02","e":1780,"s":"1"},{"t":"2022-05-04","e":1773,"s":"1"},{"t":"2022-06-30","e":1773,"s":"1"},{"t":"2022-07-01","e":1785,"s":"1"},{"t":"2022-07-02","e":1773,"s":"1"},{"t":"2022-08-14","e":1772,"s":"1"},
{"t":"2023-01-10","e":1767,"s":"2"},{"t":"2023-03-02","e":1767,"s":"2"},{"t":"2023-03-04","e":1752,"s":"2"},{"t":"2023-03-07","e":1760,"s":"2"},{"t":"2023-03-10","e":1767,"s":"2"},{"t":"2023-11-09","e":1767,"s":"2"},{"t":"2023-11-11","e":1812,"s":"2"},{"t":"2023-11-20","e":1825,"s":"2"},{"t":"2024-01-26","e":1828,"s":"2"},
{"t":"2024-12-26","e":1718,"s":"3"},{"t":"2025-01-02","e":1740,"s":"3"},{"t":"2025-01-13","e":1756,"s":"3"},{"t":"2025-03-23","e":1758,"s":"3"},
{"t":"2025-04-23","e":1718,"s":"4"},{"t":"2025-05-03","e":1740,"s":"4"},{"t":"2025-05-12","e":1768,"s":"4"},{"t":"2025-05-16","e":1760,"s":"4"},{"t":"2025-05-22","e":1752,"s":"4"},{"t":"2025-10-29","e":1751,"s":"4"}
],
"ecp": [{"t":"2025-05-10","e":1646},{"t":"2025-05-09","e":1735}],
"wq": [],
"edge": [{"t":"2027-01-01"}],
"tl": [
{"t":"2020-09-16","c":34.022,"s":"1"},{"t":"2020-10-20","c":34.016,"s":"1"},{"t":"2020-12-28","c":34.006,"s":"1"},{"t":"2021-03-01","c":34.003,"s":"1"},{"t":"2021-08-28","c":33.991,"s":"1"},{"t":"2021-10-13","c":33.988,"s":"1"},{"t":"2022-03-09","c":33.970,"s":"1"},{"t":"2022-06-29","c":33.963,"s":"1"},{"t":"2022-07-03","c":33.975,"s":"1"},{"t":"2022-08-14","c":33.975,"s":"1"},
{"t":"2023-01-11","c":33.996,"s":"2"},{"t":"2023-02-25","c":33.987,"s":"2"},{"t":"2023-03-01","c":33.975,"s":"2"},{"t":"2023-03-04","c":33.955,"s":"2"},{"t":"2023-03-07","c":33.960,"s":"2"},{"t":"2023-03-11","c":33.978,"s":"2"},{"t":"2023-03-16","c":33.988,"s":"2"},{"t":"2023-04-20","c":33.991,"s":"2"},{"t":"2023-07-01","c":33.982,"s":"2"},{"t":"2023-09-05","c":33.970,"s":"2"},{"t":"2023-11-09","c":33.962,"s":"2"},
{"t":"2023-11-12","c":33.945,"s":"3"},{"t":"2023-12-15","c":33.936,"s":"3"},{"t":"2024-01-26","c":33.931,"s":"3"},
{"t":"2024-12-17","c":33.930,"s":"4"},{"t":"2024-12-20","c":33.975,"s":"4"},{"t":"2024-12-23","c":34.005,"s":"4"},{"t":"2024-12-26","c":34.027,"s":"4"},{"t":"2024-12-29","c":34.038,"s":"4"},{"t":"2025-01-13","c":34.052,"s":"4"},{"t":"2025-02-10","c":34.062,"s":"4"},{"t":"2025-03-23","c":34.066,"s":"4"},
{"t":"2025-04-09","c":33.52,"s":"5"},{"t":"2025-04-12","c":33.62,"s":"5"},{"t":"2025-04-15","c":33.72,"s":"5"},{"t":"2025-04-18","c":33.79,"s":"5"},{"t":"2025-04-22","c":33.86,"s":"5"},{"t":"2025-04-26","c":33.921,"s":"5"},{"t":"2025-05-03","c":33.964,"s":"5"},{"t":"2025-05-17","c":33.996,"s":"5"},{"t":"2025-06-13","c":34.017,"s":"5"},{"t":"2025-07-25","c":34.031,"s":"5"},{"t":"2025-09-04","c":34.041,"s":"5"},{"t":"2025-10-29","c":34.045,"s":"5"}
],
"tp": [
{"t":"2021-10-14","c":33.960},{"t":"2021-10-14","c":33.940},{"t":"2022-07-01","c":33.935},{"t":"2022-07-01","c":33.915},
{"t":"2023-03-03","c":33.930},{"t":"2023-03-03","c":33.900},{"t":"2023-03-05","c":33.880},{"t":"2023-03-05","c":33.850},{"t":"2023-03-06","c":33.910},{"t":"2023-03-06","c":33.870},{"t":"2023-03-08","c":33.930},{"t":"2023-03-08","c":33.835},
{"t":"2023-08-01","c":34.010},{"t":"2023-09-12","c":34.006},{"t":"2023-10-18","c":34.004},
{"t":"2023-11-10","c":33.900},{"t":"2023-11-10","c":33.840},{"t":"2023-11-10","c":33.780},{"t":"2023-11-11","c":33.720},{"t":"2023-11-11","c":33.670},{"t":"2023-11-11","c":33.625},
{"t":"2024-12-13","c":34.034},{"t":"2024-12-14","c":33.553},{"t":"2024-12-14","c":33.620},{"t":"2024-12-15","c":33.680},{"t":"2024-12-15","c":33.730},{"t":"2024-12-15","c":33.780},{"t":"2024-12-16","c":33.820},{"t":"2024-12-16","c":33.860},{"t":"2024-12-16","c":33.900},
{"t":"2025-03-25","c":33.52},{"t":"2025-03-25","c":33.60},{"t":"2025-03-25","c":33.68},{"t":"2025-03-28","c":33.55},{"t":"2025-03-28","c":33.64},{"t":"2025-03-28","c":33.74},{"t":"2025-04-01","c":33.51},{"t":"2025-04-01","c":33.58},{"t":"2025-04-01","c":33.66},{"t":"2025-04-01","c":33.76},{"t":"2025-04-04","c":33.53},{"t":"2025-04-04","c":33.62},{"t":"2025-04-04","c":33.70},{"t":"2025-04-04","c":33.80},{"t":"2025-04-07","c":33.56},{"t":"2025-04-07","c":33.65},{"t":"2025-04-07","c":33.78},{"t":"2025-04-28","c":33.96}
]
},
"encoding": {
"x": {"field": "t", "type": "temporal",
 "scale": {"type": "utc", "domain": [{"year": 2020, "month": 9, "date": 1, "utc": true}, {"year": 2027, "month": 1, "date": 1, "utc": true}]},
 "axis": {"title": null, "tickCount": {"interval": "month", "step": 1},
  "labelExpr": "(utcmonth(datum.value)==2||utcmonth(datum.value)==8) ? utcFormat(datum.value,'%b-%y') : ''",
  "labelOverlap": false, "labelFlush": false, "labelBound": false, "labelFontSize": 15, "labelColor": "#222222", "labelPadding": 4,
  "domain": false, "tickColor": "#a0a0a0",
  "tickSize": {"condition": {"test": "utcmonth(datum.value)==2||utcmonth(datum.value)==8", "value": 10}, "value": 4},
  "grid": true, "gridColor": {"condition": {"test": "utcmonth(datum.value)==2||utcmonth(datum.value)==8", "value": "#a8a8a8"}, "value": "#d0d0d0"}}}
},
"resolve": {"scale": {"y": "independent"}, "axis": {"y": "independent"}},
"layer": [
 {"data": {"values": [{"t0": "2022-11-03", "t1": "2023-01-09", "w0": 72.392, "w1": 72.749}, {"t0": "2024-01-13", "t1": "2025-02-04", "w0": 72.505, "w1": 72.565}]},
  "mark": {"type": "rect", "fill": "#eeeeee"},
  "encoding": {"x": {"field": "t0", "type": "temporal", "scale": {"type": "utc", "domain": [{"year": 2020, "month": 9, "date": 1, "utc": true}, {"year": 2027, "month": 1, "date": 1, "utc": true}]}}, "x2": {"field": "t1"},
   "y": {"field": "w0", "type": "quantitative", "scale": {"domain": [72, 73], "reverse": true, "nice": false, "zero": false}, "axis": null}, "y2": {"field": "w1"}}},
 {"data": {"name": "wl"},
  "mark": {"type": "point", "shape": "square", "filled": true, "size": 6, "color": "#1414f0", "opacity": 1},
  "encoding": {"y": {"field": "w", "type": "quantitative", "scale": {"domain": [72, 73], "reverse": true, "nice": false, "zero": false},
   "axis": {"orient": "left", "title": "RN040931 Water level (mTOC)",
    "values": [72,72.05,72.1,72.15,72.2,72.25,72.3,72.35,72.4,72.45,72.5,72.55,72.6,72.65,72.7,72.75,72.8,72.85,72.9,72.95,73],
    "format": ".1~f", "labelExpr": "abs(datum.value*10-round(datum.value*10))<0.01 ? datum.label : ''",
    "labelOverlap": false, "labelColor": "#3030d0", "labelFontSize": 13.5, "labelPadding": 17,
    "domainColor": "#3c3cf0", "domainWidth": 1.5, "tickColor": "#3c3cf0",
    "tickSize": {"condition": {"test": "abs(datum.value*10-round(datum.value*10))<0.01", "value": 10}, "value": 5},
    "grid": true, "gridColor": "#cbcbcb", "gridOpacity": {"condition": {"test": "abs(datum.value*10-round(datum.value*10))<0.01", "value": 1}, "value": 0},
    "titleColor": "#3030d0", "titleFontSize": 18, "titleFontWeight": "normal", "titleAngle": 270, "titleX": -59, "titleY": 254, "titleBaseline": "middle", "titleAlign": "center"}}}},
 {"data": {"values": [{"t": "2022-12-29", "w": 72.570, "label": "Logger failure"}]},
  "mark": {"type": "text", "angle": 270, "fontSize": 29.5, "font": "Liberation Sans", "align": "center", "baseline": "alphabetic", "color": "#000000"},
  "encoding": {"y": {"field": "w", "type": "quantitative", "scale": {"domain": [72, 73], "reverse": true, "nice": false, "zero": false}, "axis": null}, "text": {"field": "label"}}},
 {"data": {"values": [{"t": "2024-07-24", "w": 72.5516, "label": "Logger failure"}]},
  "mark": {"type": "text", "angle": 0, "fontSize": 29.5, "font": "Liberation Sans", "align": "center", "baseline": "alphabetic", "color": "#000000"},
  "encoding": {"y": {"field": "w", "type": "quantitative", "scale": {"domain": [72, 73], "reverse": true, "nice": false, "zero": false}, "axis": null}, "text": {"field": "label"}}},
 {"data": {"name": "ec"},
  "mark": {"type": "line", "color": "#44c844", "strokeWidth": 2},
  "encoding": {"detail": {"field": "s"}, "y": {"field": "e", "type": "quantitative", "scale": {"domain": [-993.3, 2560], "nice": false, "zero": false},
   "axis": {"orient": "right", "title": ["Electrical conductivity", "(uS/cm)"], "values": [1000,1250,1500,1750,2000,2250,2500], "format": "d",
    "labelExpr": "datum.value % 500 == 0 ? datum.label : ''", "labelOverlap": false, "labelColor": "#4cbc4c", "labelFontSize": 13.5, "labelPadding": 12,
    "domain": false, "grid": false, "tickColor": "#58c858", "tickSize": {"condition": {"test": "datum.value % 500 == 0", "value": 10}, "value": 5},
    "titleColor": "#4cbc4c", "titleFontSize": 16, "titleFontWeight": "normal", "titleAngle": 270, "titleX": 63, "titleY": 121, "titleBaseline": "middle", "titleAlign": "center", "titleLineHeight": 20}}}},
 {"data": {"name": "edge"},
  "mark": {"type": "rule", "color": "#58c858", "strokeWidth": 1.5},
  "encoding": {"y": {"datum": 1000, "type": "quantitative", "scale": {"domain": [-993.3, 2560], "nice": false, "zero": false}, "axis": null}, "y2": {"datum": 2500}}},
 {"data": {"name": "ecp"},
  "mark": {"type": "point", "shape": "square", "filled": true, "size": 6, "color": "#44c844", "opacity": 1},
  "encoding": {"y": {"field": "e", "type": "quantitative", "scale": {"domain": [-993.3, 2560], "nice": false, "zero": false}, "axis": null}}},
 {"data": {"name": "wq"},
  "mark": {"type": "point", "shape": "circle", "filled": true, "size": 40, "opacity": 1},
  "encoding": {"y": {"field": "e", "type": "quantitative", "scale": {"domain": [-993.3, 2560], "nice": false, "zero": false}, "axis": null},
   "color": {"field": "s", "type": "nominal", "scale": {"domain": ["Water quality sample (plotted by EC)"], "range": ["#0000ff"]},
    "legend": {"orient": "none", "legendX": 34, "legendY": -28, "title": null, "symbolType": "circle", "symbolSize": 90, "symbolStrokeWidth": 0, "labelFont": "Liberation Sans", "labelFontSize": 15, "labelColor": "#222222", "labelOffset": 28, "labelLimit": 0, "padding": 0}}}},
 {"data": {"name": "tl"},
  "mark": {"type": "line", "color": "#f01a1a", "strokeWidth": 3.5},
  "encoding": {"detail": {"field": "s"}, "y": {"field": "c", "type": "quantitative", "scale": {"domain": [33.495, 35.755], "nice": false, "zero": false},
   "axis": {"orient": "right", "title": "Temperature (C)", "values": [33.5,33.55,33.6,33.65,33.7,33.75,33.8,33.85,33.9,33.95,34,34.05,34.1,34.15,34.2,34.25,34.3,34.35,34.4,34.45,34.5],
    "format": ".1~f", "labelExpr": "abs(datum.value*10-round(datum.value*10))<0.01 ? datum.label : ''", "labelOverlap": false,
    "labelColor": "#e03030", "labelFontSize": 13.5, "labelPadding": 12, "domain": false, "grid": false, "tickColor": "#e83a3a",
    "tickSize": {"condition": {"test": "abs(datum.value*10-round(datum.value*10))<0.01", "value": 10}, "value": 5},
    "titleColor": "#e03030", "titleFontSize": 15.5, "titleFontWeight": "normal", "titleAngle": 270, "titleX": 58, "titleY": 414, "titleBaseline": "middle", "titleAlign": "center"}}}},
 {"data": {"name": "edge"},
  "mark": {"type": "rule", "color": "#e83a3a", "strokeWidth": 1.5},
  "encoding": {"y": {"datum": 33.5, "type": "quantitative", "scale": {"domain": [33.495, 35.755], "nice": false, "zero": false}, "axis": null}, "y2": {"datum": 34.5}}},
 {"data": {"name": "tp"},
  "mark": {"type": "point", "shape": "square", "filled": true, "size": 5, "color": "#e82020", "opacity": 1},
  "encoding": {"y": {"field": "c", "type": "quantitative", "scale": {"domain": [33.495, 35.755], "nice": false, "zero": false}, "axis": null}}}
]
}
